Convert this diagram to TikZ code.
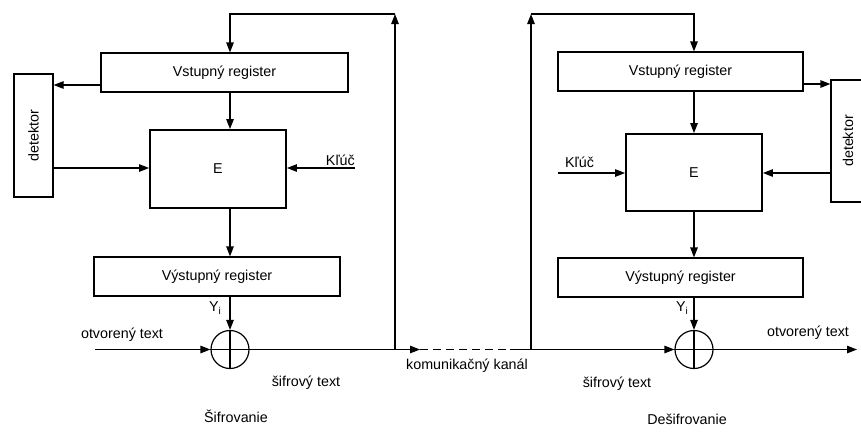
\documentclass[tikz,border=0pt]{standalone}
\usepackage{fontspec}
\setmainfont{Liberation Sans}
\usetikzlibrary{arrows.meta}
\begin{document}
\begin{tikzpicture}[x=1pt,y=-1pt,
  every node/.style={font=\fontsize{14.3}{16}\selectfont},
  box/.style={draw,line width=1.2pt,inner sep=0pt,minimum width=#1},
  ebox/.style={draw,line width=1.9pt,inner sep=0pt,minimum width=136pt,minimum height=78pt},
  xorc/.style={draw,circle,line width=1.2pt,minimum size=38pt,inner sep=0pt},
  ln/.style={line width=1.2pt},
  arr/.style={line width=1.2pt,-{Triangle[length=10pt,width=7.5pt]}},
  lbl/.style={inner sep=0pt}]
\clip (0,0) rectangle (861,432);
\fill[white] (0,0) rectangle (861,432);
% ---------- left (encryption) ----------
\node[box=247pt,minimum height=39pt] (lvin) at (224.5,72.5) {Vstupný register};
\node[box=39pt,minimum height=123pt] (ldet) at (33.5,135.5) {};
\node[lbl,rotate=90] (ldett) at (ldet.center) {detektor};
\node[ebox] (lE) at (218,169) {E};
\node[box=246pt,minimum height=39pt] (lout) at (217,276.5) {Výstupný register};
\node[xorc] (lxor) at (230,349.5) {};
\draw[ln] (lxor.north) -- (lxor.south) (lxor.west) -- (lxor.east);
\coordinate (ltop) at (395,14);
\coordinate (lkey) at (355,168);
\coordinate (lin) at (95,349.5);
\coordinate (chL) at (420,349.5);
\coordinate (chR) at (510,349.5);
\draw[arr] (ltop |- lxor) -- (ltop);
\draw[arr] (ltop) -- (ltop -| lxor) -- (lvin.north -| lxor);
\draw[arr] ([yshift=-12.5pt]lvin.west) coordinate (la) -- (la -| ldet.east);
\draw[arr] (lvin.south -| lxor) -- (lE.north -| lxor);
\draw[arr] (ldet.east |- lkey) -- (lkey -| lE.west);
\draw[arr] (lkey) -- (lkey -| lE.east);
\node[lbl,anchor=south east] (lkeyt) at ([yshift=2pt]lkey) {Kľúč};
\draw[arr] (lE.south -| lxor) -- (lout.north -| lxor);
\draw[arr] (lout.south -| lxor) -- (lxor.north);
\node[lbl] (lyi) at (215,308) {Y\raisebox{-3pt}{\fontsize{10}{10}\selectfont i}};
\draw[arr] (lin) -- (lxor.west);
\node[lbl] (lot) at (122,335) {otvorený text};
\draw[arr] (lxor.east) -- (chL);
\draw[ln,dash pattern=on 8pt off 5pt] (chL) -- (chR);
\node[lbl] (lsif) at (306,383) {šifrový text};
\node[lbl] (kom) at (467,366) {komunikačný kanál};
\node[lbl] (sifr) at (236,416) {Šifrovanie};
% ---------- right (decryption) ----------
\node[box=245pt,minimum height=39pt] (rvin) at (680.5,71.5) {Vstupný register};
\node[box=36pt,minimum height=122pt] (rdet) at (849,141) {};
\node[lbl,rotate=90] (rdett) at (848,141) {detektor};
\node[ebox,minimum height=77pt] (rE) at (694,172.5) {E};
\node[box=245pt,minimum height=39pt] (rout) at (680.5,277.5) {Výstupný register};
\node[xorc] (rxor) at (694,349.5) {};
\draw[ln] (rxor.north) -- (rxor.south) (rxor.west) -- (rxor.east);
\coordinate (rtop) at (531,14);
\coordinate (rkey) at (558,173);
\coordinate (rend) at (857,349.5);
\draw[arr] (chR) -- (rxor.west);
\draw[arr] (rtop |- rxor) -- (rtop);
\draw[arr] (rtop) -- (rtop -| rxor) -- (rvin.north -| rxor);
\draw[arr] ([yshift=-12.5pt]rvin.east) coordinate (ra) -- (ra -| rdet.west);
\draw[arr] (rvin.south -| rxor) -- (rE.north -| rxor);
\draw[arr] (rdet.west |- rkey) -- (rkey -| rE.east);
\draw[arr] (rkey) -- (rkey -| rE.west);
\node[lbl,anchor=south west] (rkeyt) at ([xshift=7pt,yshift=5pt]rkey) {Kľúč};
\draw[arr] (rE.south -| rxor) -- (rout.north -| rxor);
\draw[arr] (rout.south -| rxor) -- (rxor.north);
\node[lbl] (ryi) at (682,308) {Y\raisebox{-3pt}{\fontsize{10}{10}\selectfont i}};
\draw[arr] (rxor.east) -- (rend);
\node[lbl] (rot) at (808,333) {otvorený text};
\node[lbl] (rsif) at (617,384) {šifrový text};
\node[lbl] (desifr) at (687,419) {Dešifrovanie};
\end{tikzpicture}
\end{document}
